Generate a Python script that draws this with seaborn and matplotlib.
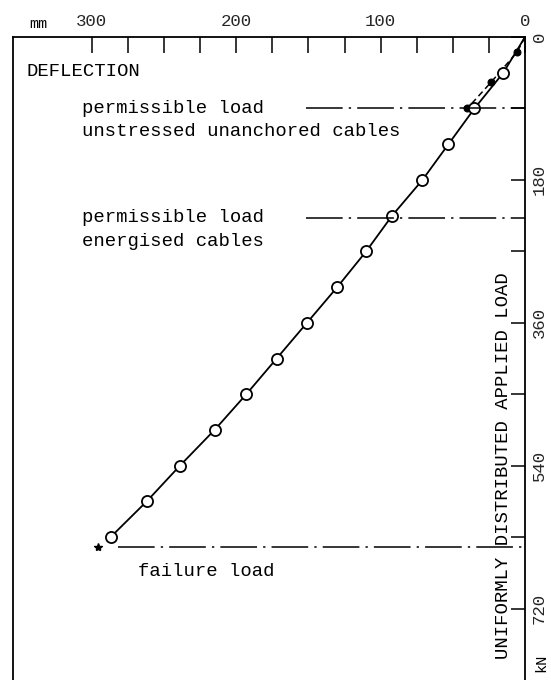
import numpy as np
import pandas as pd
import matplotlib
matplotlib.use("Agg")
import matplotlib.pyplot as plt
import seaborn as sns

# values
load_kN = [0, 45, 90, 135, 180, 225, 270, 315, 360, 405, 450, 495, 540, 585, 630]
deflection_mm = [0, 15, 35, 53, 71, 92, 110, 130, 151, 172, 193, 215, 239, 262, 287]

early_load_kN = [0, 19, 57, 90]
early_deflection_mm = [0, 5.5, 23.5, 40]

failure_load_kN = 643
failure_deflection_mm = 296

permissible_unstressed_kN = 90
permissible_energised_kN = 228

x_major = [300, 200, 100, 0]
y_major = [0, 180, 360, 540, 720]

sns.set_theme(style="white")
plt.rcParams['font.family'] = ['Liberation Mono', 'DejaVu Sans Mono']
plt.rcParams['text.color'] = 'black'

fig = plt.figure(figsize=(5.51, 6.80), dpi=100)
ax = fig.add_axes([13 / 551, 0.0, (525 - 13) / 551, (680 - 37) / 680])

main = pd.DataFrame({"deflection": deflection_mm, "load": load_kN})
early = pd.DataFrame({"deflection": early_deflection_mm, "load": early_load_kN})

# dashed line with filled dots (first loading)
sns.lineplot(data=early, x="deflection", y="load", sort=False, estimator=None,
             ax=ax, color="black", lw=1.1, linestyle=(0, (4, 2.5)),
             marker="o", markersize=5, markerfacecolor="black",
             markeredgecolor="black", markevery=list(range(1, len(early))))

# solid line with open circles
sns.lineplot(data=main, x="deflection", y="load", sort=False, estimator=None,
             ax=ax, color="black", lw=1.3,
             marker="o", markersize=8, markerfacecolor="white",
             markeredgecolor="black", markeredgewidth=1.3,
             markevery=list(range(1, len(main))))

ax.plot([failure_deflection_mm], [failure_load_kN], marker="*", color="black",
        markersize=6, linestyle="none")

# reference lines
dashdot = (0, (24, 4, 1.5, 4))
ax.plot([152, 0], [permissible_unstressed_kN] * 2, color="black", lw=1.1, linestyle=dashdot)
ax.plot([152, 0], [permissible_energised_kN] * 2, color="black", lw=1.1, linestyle=dashdot)
ax.plot([282, 0], [failure_load_kN] * 2, color="black", lw=1.1, linestyle=dashdot)

fs = 13.6
ax.text(345.5, 43, "DEFLECTION", fontsize=fs, va="center", ha="left")
ax.text(307, permissible_unstressed_kN, "permissible load", fontsize=fs, va="center", ha="left")
ax.text(307, permissible_unstressed_kN + 29, "unstressed unanchored cables", fontsize=fs,
        va="center", ha="left")
ax.text(307, permissible_energised_kN - 1, "permissible load", fontsize=fs, va="center", ha="left")
ax.text(307, permissible_energised_kN + 29, "energised cables", fontsize=fs, va="center", ha="left")
ax.text(268, failure_load_kN + 30, "failure load", fontsize=fs, va="center", ha="left")
ax.text(15, 540, "UNIFORMLY DISTRIBUTED APPLIED LOAD", fontsize=fs, rotation=90,
        va="center", ha="center")

# axes: deflection reversed on top, load downward on the right
ax.set_xlim(354.6, 0)
ax.set_ylim(810, 0)
ax.set_xlabel("")
ax.set_ylabel("")

ax.xaxis.tick_top()
ax.set_xticks(x_major)
ax.set_xticks(np.arange(0, 325, 25), minor=True)
ax.set_xticklabels([str(v) for v in x_major], fontsize=12.5)
ax.tick_params(axis="x", which="both", direction="in", length=11.5, width=1.1,
               color="black", top=True, bottom=False, pad=6)

ax.yaxis.tick_right()
ax.set_yticks(y_major)
ax.set_yticks(np.arange(0, 721, 90), minor=True)
ax.set_yticklabels([str(v) for v in y_major], fontsize=12.5, rotation=90, va="center")
ax.tick_params(axis="y", which="both", direction="in", length=10, width=1.1,
               color="black", right=True, left=False, pad=5)

for side in ["top", "right", "left"]:
    ax.spines[side].set_color("black")
    ax.spines[side].set_linewidth(1.3)
ax.spines["bottom"].set_visible(False)

fig.text(38 / 551, 1 - 24 / 680, "mm", fontsize=11, ha="center", va="center")
fig.text(541 / 551, 1 - 663 / 680, "kN", fontsize=11, ha="center", va="center", rotation=90)

fig.savefig("out.png", dpi=100)
